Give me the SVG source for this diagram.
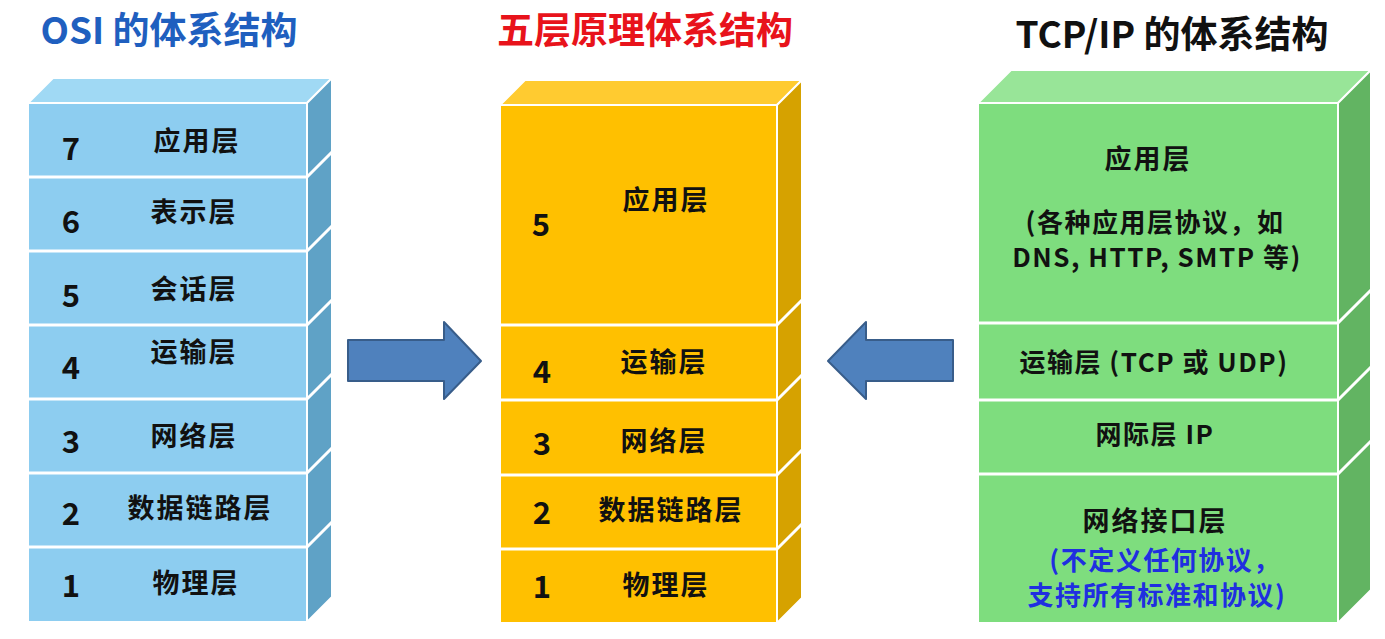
<svg xmlns="http://www.w3.org/2000/svg" width="1385" height="639" viewBox="0 0 1385 639">
<style>
text{font-family:"Noto Sans CJK SC","Liberation Sans",sans-serif;font-weight:bold;text-anchor:middle;dominant-baseline:central}
.t{font-size:37px}
.lb{font-size:27px;letter-spacing:2px;fill:#111}
.tl{font-size:26px;letter-spacing:1.5px;fill:#111}
.num{font-size:31px;fill:#111}
.blue{fill:#1f2fe0}
.div{stroke:#fff;stroke-width:3;fill:none}
.edge{stroke:#fff;stroke-width:2;stroke-linejoin:round}
.bf{fill:#8dcdf0}.bt{fill:#a0d9f4}.bs{fill:#5fa2c6}
.yf{fill:#ffc000}.yt{fill:#ffcb30}.ys{fill:#d6a200}
.gf{fill:#7edd7e}.gt{fill:#98e598}.gs{fill:#62b462}
.arr{fill:#4f81bd;stroke:#385d8a;stroke-width:2;stroke-linejoin:round}
</style>
<rect width="1385" height="639" fill="#fff"/>

<text class="t" x="169" y="28" fill="#1f5fbf">OSI 的体系结构</text>
<text class="t" x="645" y="28" fill="#e8131b">五层原理体系结构</text>
<text class="t" x="1172" y="32" fill="#111">TCP/IP 的体系结构</text>

<g id="osi">
  <polygon class="bt edge" points="28,103 53,78 332,78 307,103"/>
  <polygon class="bs edge" points="307,103 332,78 332,597 307,622"/>
  <rect class="bf edge" x="28" y="103" width="279" height="519"/>
  <path class="div" d="M28,177H307M28,251H307M28,325H307M28,399H307M28,473H307M28,547H307"/>
  <path class="div" d="M307,177L332,152M307,251L332,226M307,325L332,300M307,399L332,374M307,473L332,448M307,547L332,522"/>
  <g id="osi7"><text class="num" x="71" y="146">7</text><text class="lb" x="197" y="139">应用层</text></g>
  <g id="osi6"><text class="num" x="71" y="219">6</text><text class="lb" x="194" y="210">表示层</text></g>
  <g id="osi5"><text class="num" x="71" y="293">5</text><text class="lb" x="194" y="287">会话层</text></g>
  <g id="osi4"><text class="num" x="71" y="365">4</text><text class="lb" x="194" y="350">运输层</text></g>
  <g id="osi3"><text class="num" x="71" y="439">3</text><text class="lb" x="194" y="434">网络层</text></g>
  <g id="osi2"><text class="num" x="71" y="511">2</text><text class="lb" x="200" y="506">数据链路层</text></g>
  <g id="osi1"><text class="num" x="71" y="583">1</text><text class="lb" x="196" y="581">物理层</text></g>
</g>

<g id="five">
  <polygon class="yt edge" points="500,105 525,80 802,80 777,105"/>
  <polygon class="ys edge" points="777,105 802,80 802,598 777,623"/>
  <rect class="yf edge" x="500" y="105" width="277" height="518"/>
  <path class="div" d="M500,325H777M500,400H777M500,475H777M500,549H777"/>
  <path class="div" d="M777,325L802,300M777,400L802,375M777,475L802,450M777,549L802,524"/>
  <g id="f5"><text class="num" x="541" y="222">5</text><text class="lb" x="666" y="198">应用层</text></g>
  <g id="f4"><text class="num" x="542" y="369">4</text><text class="lb" x="664" y="360">运输层</text></g>
  <g id="f3"><text class="num" x="542" y="441">3</text><text class="lb" x="664" y="439">网络层</text></g>
  <g id="f2"><text class="num" x="542" y="510">2</text><text class="lb" x="671" y="508">数据链路层</text></g>
  <g id="f1"><text class="num" x="542" y="584">1</text><text class="lb" x="666" y="583">物理层</text></g>
</g>

<g id="tcpip">
  <polygon class="gt edge" points="978,103 1011,70 1371,70 1338,103"/>
  <polygon class="gs edge" points="1338,103 1371,70 1371,590 1338,623"/>
  <rect class="gf edge" x="978" y="103" width="360" height="520"/>
  <path class="div" d="M978,323H1338M978,400H1338M978,474H1338"/>
  <path class="div" d="M1338,323L1371,290M1338,400L1371,367M1338,474L1371,441"/>
  <g id="t4"><text class="lb" x="1148" y="157">应用层</text>
    <text class="tl" x="1155" y="220">(各种应用层协议，如</text>
    <text class="tl" x="1157" y="255">DNS, HTTP, SMTP 等)</text></g>
  <g id="t3"><text class="tl" x="1154" y="360">运输层 (TCP 或 UDP)</text></g>
  <g id="t2"><text class="tl" x="1155" y="432">网际层 IP</text></g>
  <g id="t1"><text class="lb" x="1155" y="519">网络接口层</text>
    <text class="tl blue" x="1165" y="558">(不定义任何协议，</text>
    <text class="tl blue" x="1157" y="593">支持所有标准和协议)</text></g>
</g>

<g id="connectors">
  <polygon class="arr" points="348,340 444,340 444,322 481,361 444,399 444,381 348,381"/>
  <polygon class="arr" points="953,340 866,340 866,322 828,361 866,399 866,381 953,381"/>
</g>
</svg>
